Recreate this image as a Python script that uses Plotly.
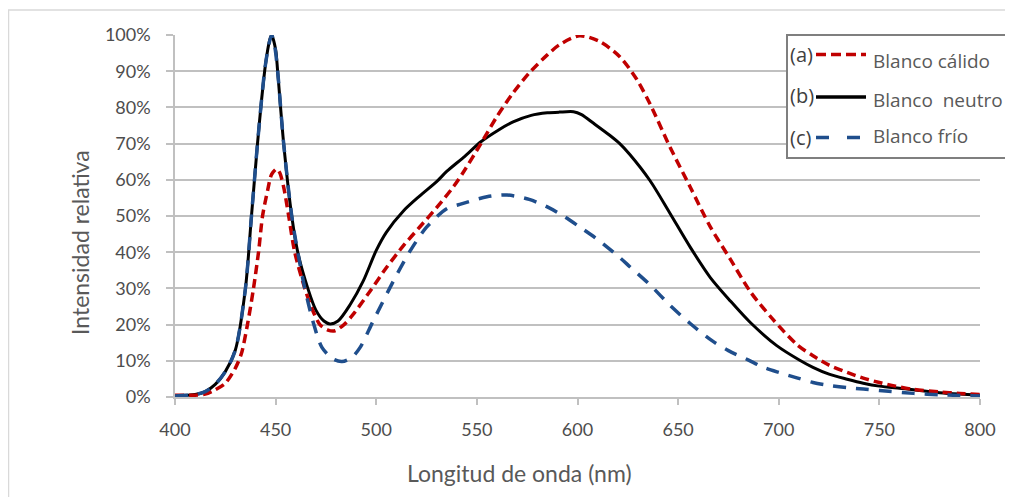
import plotly.graph_objects as go

# ---------------- data ----------------
wl_neutral = [400, 410, 415, 420, 425, 430, 435, 438, 441, 443, 445, 447, 448, 450, 451, 454, 458,
              461, 466, 470, 474, 477, 481, 487, 493.5, 500, 505, 513.5, 521.5, 530, 535, 544, 552,
              560, 568, 577, 585, 591, 598, 602, 608, 616, 621, 626, 636, 646, 656, 666, 676,
              686, 699, 710, 717, 725, 734, 742, 750, 760, 767, 780, 790, 800]
neutral = [0.3, 0.7, 1.5, 3.5, 7, 13, 30, 50, 70, 82, 92, 98.5, 100, 96, 90, 70, 50,
           40, 30, 24, 21, 20.2, 21, 25.5, 32, 40.5, 45.5, 51.4, 55.5, 59.5, 62.3, 66.5, 70.5,
           73.5, 76, 77.8, 78.5, 78.7, 78.8, 78, 75.6, 72.3, 70, 67, 59.8, 50.7, 41.4, 33, 26.5,
           20.5, 14.2, 10.3, 8.2, 6.3, 4.9, 3.8, 3, 2.4, 2, 1.2, 0.8, 0.5]

wl_warm = [400, 410, 415, 420, 425, 430, 433, 436, 439, 441.5, 443.5, 446, 448, 450.5, 452, 454,
           456.5, 459.5, 464.5, 468, 472, 476, 479.5, 484, 488.5, 497, 505, 513.5, 521.5, 530, 538.5,
           543.5, 552, 560, 568, 576, 585, 591, 601, 611, 621, 629.5, 636, 646, 656, 666,
           676, 686, 697, 709, 717, 725, 734, 742, 750, 758, 767, 780, 790, 800]
warm = [0.5, 0.5, 0.8, 2, 3.8, 8, 12, 20, 30, 40, 50, 57, 61.5, 63, 62, 58,
        50, 40, 30, 24.5, 20, 18.5, 18.3, 20, 22.8, 29.3, 35.7, 41.8, 46.9, 52.3, 58.2,
        62.3, 70, 77.5, 84, 89.5, 94.5, 97.3, 99.8, 98.2, 94, 87.7, 81, 69, 58, 47,
        38, 29, 21.5, 14.5, 11.4, 8.8, 6.8, 5.2, 4, 3, 2.1, 1.4, 1, 0.7]

wl_cold = [400, 410, 415, 420, 425, 430, 435, 438, 441, 444.5, 446.5, 448, 449.5, 451, 454, 458,
           461, 464.5, 469, 473, 478.5, 483, 488, 492, 498.5, 508.5, 517, 525, 535, 541.5, 555,
           565, 576, 585, 593, 601, 610, 621, 626, 636, 646, 656, 667, 675, 685, 692, 700,
           709, 717, 725, 734, 742, 750, 767, 780, 800]
cold = [0.3, 0.7, 1.5, 3.5, 7, 13, 30, 50, 70, 90, 97, 100, 97, 90, 70, 50,
        40, 30, 20, 13.7, 10.5, 9.8, 11, 13.7, 21, 32, 40.5, 46.9, 52, 53.2, 55.3,
        55.8, 54.6, 52.5, 50, 47, 43.5, 38.5, 36, 31, 25.3, 20.3, 15.5, 12.8, 10.2, 8.3, 6.8,
        5.3, 4, 3.2, 2.6, 2.2, 1.8, 1, 0.6, 0.3]

y_ticks = [0, 0.1, 0.2, 0.3, 0.4, 0.5, 0.6, 0.7, 0.8, 0.9, 1.0]
x_ticks = [400, 450, 500, 550, 600, 650, 700, 750, 800]

series_labels = ["(a)", "(b)", "(c)"]
series_names = ["Blanco cálido", "Blanco  neutro", "Blanco frío"]

# ---------------- layout helpers ----------------
OFF = 8                      # page body margin of the rendered html
W, H = 1013 - OFF, 497 - OFF
# plot area in screen pixels
SL, SR, ST, SB = 175, 980, 35, 397
L, R, T, B = SL - OFF, SR - OFF, ST - OFF, SB - OFF


def px(x):
    """screen x pixel -> paper fraction"""
    return (x - SL) / (SR - SL)


def py(y):
    """screen y pixel -> paper fraction"""
    return (SB - y) / (SB - ST)


RED = "#c00000"
BLUE = "#1f4e8c"
BLACK = "#000000"
GRID = "#c0c0c0"
TXT = "#595959"
TICK_TXT = "#4d4d4d"

fig = go.Figure()
fig.add_trace(go.Scatter(x=wl_neutral, y=[v / 100 for v in neutral], mode="lines",
                         name=series_names[1], showlegend=False,
                         line=dict(color=BLACK, width=3, shape="spline", smoothing=0.8)))
fig.add_trace(go.Scatter(x=wl_warm, y=[v / 100 for v in warm], mode="lines",
                         name=series_names[0], showlegend=False,
                         line=dict(color=RED, width=3.5, dash="9px,5px", shape="spline", smoothing=0.8)))
fig.add_trace(go.Scatter(x=wl_cold, y=[v / 100 for v in cold], mode="lines",
                         name=series_names[2], showlegend=False,
                         line=dict(color=BLUE, width=3.5, dash="13px,10px", shape="spline", smoothing=0.8)))

shapes = []
# outer chart border
shapes.append(dict(type="rect", xref="paper", yref="paper", x0=px(8.5), x1=px(1030), y0=py(520), y1=py(10),
                   line=dict(color="#d9d9d9", width=1.5), fillcolor="rgba(0,0,0,0)", layer="below"))
# legend box
shapes.append(dict(type="rect", xref="paper", yref="paper", x0=px(787), x1=px(1030), y0=py(158), y1=py(35),
                   line=dict(color="#7f7f7f", width=2), fillcolor="white", layer="above"))
# legend samples
leg_y = [54.5, 97, 137.5]
leg_style = [dict(color=RED, width=3.5, dash="10px,5px"),
             dict(color=BLACK, width=3.5),
             dict(color=BLUE, width=3.5, dash="13px,18px")]
for yy, st in zip(leg_y, leg_style):
    shapes.append(dict(type="line", xref="paper", yref="paper", x0=px(816), x1=px(866), y0=py(yy), y1=py(yy),
                       line=st, layer="above"))

annotations = []
lab_y = [55, 95, 137]
name_y = [61, 100, 136]
for lab, nm, ly, ny in zip(series_labels, series_names, lab_y, name_y):
    annotations.append(dict(xref="paper", yref="paper", x=px(788), y=py(ly), text=lab, showarrow=False,
                            xanchor="left", yanchor="middle", font=dict(family="Open Sans", size=20, color="#404040")))
    annotations.append(dict(xref="paper", yref="paper", x=px(871), y=py(ny), text=nm, showarrow=False,
                            xanchor="left", yanchor="middle", font=dict(family="Open Sans", size=19, color=TXT)))

# axis titles
annotations.append(dict(xref="paper", yref="paper", x=px(519), y=py(473), text="Longitud de onda (nm)",
                        showarrow=False, xanchor="center", yanchor="middle",
                        font=dict(family="Lato", size=23, color=TXT)))
annotations.append(dict(xref="paper", yref="paper", x=px(80), y=py(243), text="Intensidad relativa",
                        showarrow=False, xanchor="center", yanchor="middle", textangle=-90,
                        font=dict(family="Lato", size=23, color=TXT)))

fig.update_layout(
    width=W, height=H,
    margin=dict(l=L, r=W - R, t=T, b=H - B),
    paper_bgcolor="white", plot_bgcolor="white",
    showlegend=False,
    shapes=shapes, annotations=annotations,
    xaxis=dict(range=[400, 800], tickvals=x_ticks, ticktext=[str(v) for v in x_ticks],
               showgrid=False, zeroline=False, showline=True, linecolor=GRID, linewidth=1.5,
               ticks="outside", ticklen=6, tickcolor=GRID, tickwidth=1.5, ticklabelstandoff=10,
               tickfont=dict(family="Lato", size=18, color=TICK_TXT)),
    yaxis=dict(range=[0, 1], tickvals=y_ticks, ticktext=[f"{int(round(v * 100))}%" for v in y_ticks],
               showgrid=True, gridcolor=GRID, gridwidth=1.8, zeroline=False,
               showline=True, linecolor=GRID, linewidth=1.5,
               ticks="outside", ticklen=7, tickcolor=GRID, tickwidth=1.5, ticklabelstandoff=12,
               tickfont=dict(family="Lato", size=18, color=TICK_TXT)),
)

fig.write_html("out.html")
